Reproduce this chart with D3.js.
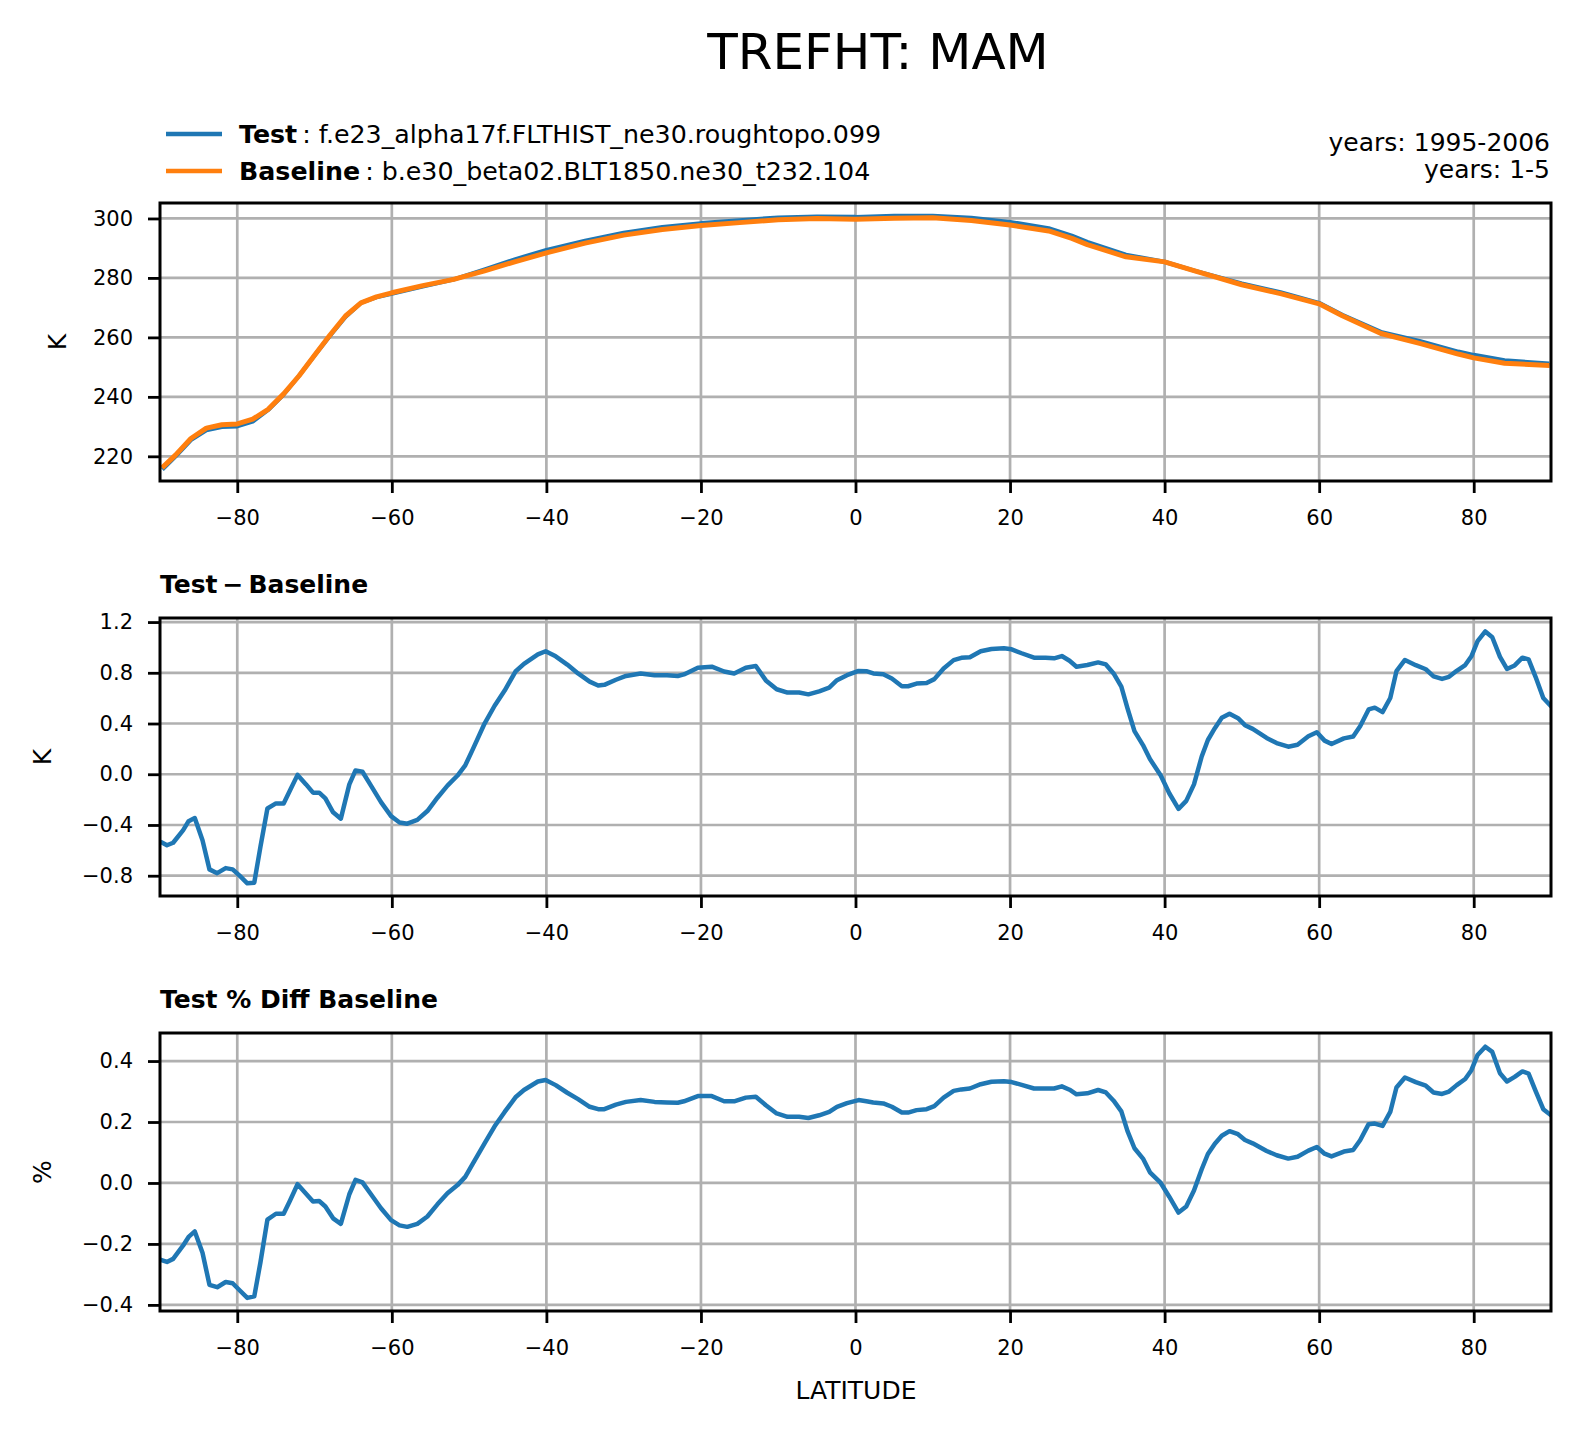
<!DOCTYPE html>
<html>
<head>
<meta charset="utf-8">
<script src="https://cdnjs.cloudflare.com/ajax/libs/d3/7.8.5/d3.min.js"></script>
<style>
  body { margin: 0; background: #fff; }
  svg text { font-family: "DejaVu Sans", sans-serif; fill: #000; }
</style>
</head>
<body>
<svg id="chart" width="1580" height="1433"></svg>
<script>
///////////////////////////////////////////////////////////////////////////////
// DATA

var titleText = 'TREFHT: MAM';
var testName = 'f.e23_alpha17f.FLTHIST_ne30.roughtopo.099';
var baseName = 'b.e30_beta02.BLT1850.ne30_t232.104';
var yearsText = ['years: 1995-2006', 'years: 1-5'];

var xTicks = [-80, -60, -40, -20, 0, 20, 40, 60, 80];

// top panel: zonal means (K)
var latMean = [-89.5, -88, -86, -84, -82, -80, -78, -76, -74, -72, -70, -68, -66, -64, -62, -60,
  -56, -52, -48, -44, -40, -35, -30, -25, -20, -15, -10, -5, 0, 5, 10, 15, 20, 25, 28, 30,
  35, 40, 44, 50, 55, 60, 63, 68, 73, 78, 80, 84, 89.5];
var testMean = [216.1, 219.9, 225.5, 228.8, 229.9, 230.1, 231.7, 235.6, 240.8, 247.1, 253.9, 260.6,
  266.9, 271.6, 273.5, 274.7, 277.1, 279.5, 282.8, 286.3, 289.4, 292.5, 295.2, 297.1, 298.4,
  299.4, 300.3, 300.6, 300.5, 300.9, 300.9, 300.2, 298.8, 296.7, 294.2, 292.1, 287.8, 285.4,
  282.3, 278.1, 275.2, 271.6, 267.6, 261.8, 258.8, 255.2, 254.1, 252.3, 251.2];
var baseMean = [216.7, 220.4, 226.0, 229.5, 230.6, 230.9, 232.5, 235.8, 241.0, 247.1, 254.0, 260.8,
  267.2, 271.6, 273.6, 275.0, 277.4, 279.5, 282.4, 285.5, 288.4, 291.7, 294.4, 296.3, 297.6,
  298.6, 299.6, 300.0, 299.7, 300.1, 300.2, 299.3, 297.8, 295.8, 293.3, 291.2, 287.1, 285.4,
  282.3, 277.7, 274.7, 271.3, 267.3, 261.3, 258.0, 254.4, 253.1, 251.3, 250.6];
var yTicksMean = [220, 240, 260, 280, 300];

// middle + bottom panels share one latitude list
var latDiff = [-89.7, -89.1, -88.3, -87.0, -86.3, -85.5, -84.5, -83.6, -82.6, -81.5, -80.6, -79.7,
  -78.7, -77.8, -77.0, -76.1, -75.0, -74.0, -73.2, -72.2, -71.1, -70.2, -69.4, -68.6, -67.6,
  -66.6, -65.5, -64.7, -63.8, -62.7, -61.4, -60.1, -59.0, -58.0, -56.7, -55.4, -54.1, -52.8,
  -51.5, -50.5, -49.5, -48.0, -46.7, -45.4, -44.0, -42.9, -41.1, -40.1, -38.8, -37.3, -35.9,
  -34.4, -33.3, -32.5, -31.0, -29.7, -27.8, -26.0, -24.4, -23.0, -22.2, -20.4, -18.6, -17.0,
  -15.7, -14.2, -12.9, -11.6, -10.2, -8.8, -7.3, -6.1, -4.7, -3.4, -2.4, -1.1, 0.4, 1.4, 2.3,
  3.6, 4.7, 6.0, 6.8, 7.9, 9.2, 10.2, 11.4, 12.7, 13.7, 14.8, 16.2, 17.6, 19.2, 20.2, 21.5,
  23.1, 24.6, 25.7, 26.7, 27.7, 28.6, 30.0, 31.4, 32.4, 33.4, 34.4, 35.2, 36.1, 37.2, 38.1,
  39.5, 40.6, 41.8, 42.8, 43.8, 44.8, 45.6, 46.5, 47.4, 48.4, 49.5, 50.4, 51.4, 53.2, 54.5,
  56.0, 57.2, 58.6, 59.7, 60.7, 61.6, 63.2, 64.4, 65.3, 66.4, 67.2, 68.2, 69.2, 70.0, 71.1,
  72.5, 73.8, 74.8, 75.9, 76.8, 77.8, 78.9, 79.7, 80.5, 81.5, 82.4, 83.4, 84.3, 85.3, 86.3,
  87.1, 88.0, 89.0, 89.9];

// Test - Baseline (K)
var diffVals = [-0.54, -0.56, -0.54, -0.44, -0.37, -0.345, -0.52, -0.75, -0.78, -0.74, -0.75, -0.80,
  -0.86, -0.855, -0.57, -0.27, -0.23, -0.23, -0.13, -0.005, -0.08, -0.145, -0.145, -0.19, -0.30,
  -0.35, -0.08, 0.03, 0.02, -0.09, -0.22, -0.33, -0.38, -0.39, -0.36, -0.29, -0.185, -0.09,
  -0.01, 0.07, 0.20, 0.40, 0.54, 0.66, 0.81, 0.87, 0.945, 0.97, 0.93, 0.865, 0.795,
  0.73, 0.70, 0.705, 0.745, 0.775, 0.795, 0.78, 0.78, 0.775, 0.787, 0.84, 0.848, 0.81,
  0.795, 0.84, 0.853, 0.74, 0.67, 0.644, 0.644, 0.63, 0.654, 0.683, 0.742, 0.781, 0.815, 0.813, 0.795,
  0.789, 0.755, 0.694, 0.694, 0.715, 0.72, 0.75, 0.834, 0.90, 0.918, 0.922, 0.97, 0.988, 0.993, 0.985, 0.954,
  0.919, 0.919, 0.914, 0.932, 0.895, 0.848, 0.861, 0.882, 0.866, 0.795, 0.69, 0.52, 0.34, 0.23, 0.12,
  -0.01, -0.15, -0.273, -0.21, -0.08, 0.14, 0.27, 0.363, 0.445, 0.477, 0.442, 0.387, 0.358, 0.286, 0.246,
  0.217, 0.232, 0.299, 0.331, 0.265, 0.238, 0.283, 0.297, 0.379, 0.511, 0.525, 0.49, 0.601, 0.813, 0.901,
  0.86, 0.828, 0.772, 0.752, 0.768, 0.816, 0.861, 0.93, 1.05, 1.126, 1.08, 0.925, 0.83, 0.858, 0.919,
  0.906, 0.768, 0.601, 0.543];
var yTicksDiff = [-0.8, -0.4, 0.0, 0.4, 0.8, 1.2];

// Test % Diff Baseline (%)
var pctVals = [-0.254, -0.259, -0.249, -0.205, -0.177, -0.159, -0.229, -0.334, -0.342, -0.325, -0.329, -0.352,
  -0.377, -0.372, -0.26, -0.12, -0.101, -0.101, -0.059, -0.004, -0.035, -0.061, -0.059, -0.077, -0.116,
  -0.134, -0.037, 0.010, 0.002, -0.037, -0.083, -0.122, -0.139, -0.144, -0.134, -0.110, -0.070, -0.034,
  -0.007, 0.02, 0.064, 0.13, 0.186, 0.233, 0.281, 0.305, 0.333, 0.338, 0.321, 0.296, 0.275,
  0.25, 0.242, 0.242, 0.257, 0.266, 0.272, 0.266, 0.264, 0.263, 0.268, 0.285, 0.285, 0.268,
  0.268, 0.28, 0.283, 0.255, 0.228, 0.217, 0.217, 0.213, 0.222, 0.233, 0.25, 0.262, 0.272, 0.268, 0.264,
  0.261, 0.250, 0.231, 0.231, 0.239, 0.242, 0.252, 0.28, 0.302, 0.307, 0.31, 0.324, 0.332, 0.334, 0.331, 0.322,
  0.31, 0.31, 0.31, 0.317, 0.306, 0.291, 0.294, 0.305, 0.297, 0.27, 0.235, 0.17, 0.114, 0.08, 0.035,
  0.0, -0.045, -0.097, -0.077, -0.025, 0.045, 0.095, 0.129, 0.155, 0.17, 0.16, 0.141, 0.13, 0.105, 0.091,
  0.08, 0.086, 0.106, 0.118, 0.096, 0.087, 0.103, 0.108, 0.14, 0.193, 0.195, 0.187, 0.233, 0.313, 0.346,
  0.331, 0.319, 0.297, 0.292, 0.300, 0.321, 0.341, 0.37, 0.42, 0.447, 0.43, 0.36, 0.333, 0.348, 0.366,
  0.359, 0.302, 0.242, 0.224];
var yTicksPct = [-0.4, -0.2, 0.0, 0.2, 0.4];

///////////////////////////////////////////////////////////////////////////////
// LAYOUT

var blue = '#1f77b4';
var orange = '#ff7f0e';
var gridColor = '#b0b0b0';
var tickFont = 21;
var labelFont = 25;

var plotLeft = 160, plotRight = 1551, panelH = 278;

var svg = d3.select('#chart');
svg.append('rect').attr('width', 1580).attr('height', 1433).attr('fill', '#fff');

var x = d3.scaleLinear().domain([-90, 90]).range([plotLeft, plotRight]);

// draws one axes box with grid, ticks and its lines
function drawPanel(opts) {
  var top = opts.top, bottom = top + panelH;
  var y = d3.scaleLinear().domain(opts.yDomain).range([bottom, top]);
  var g = svg.append('g');

  // grid
  g.selectAll('.vgrid').data(xTicks).enter().append('line')
    .attr('x1', function(d) { return x(d); }).attr('x2', function(d) { return x(d); })
    .attr('y1', top).attr('y2', bottom)
    .style('stroke', gridColor).style('stroke-width', 2.7);
  g.selectAll('.hgrid').data(opts.yTicks).enter().append('line')
    .attr('x1', plotLeft).attr('x2', plotRight)
    .attr('y1', function(d) { return y(d); }).attr('y2', function(d) { return y(d); })
    .style('stroke', gridColor).style('stroke-width', 2.7);

  // lines, clipped to the box
  var clipId = 'clip' + top;
  svg.append('clipPath').attr('id', clipId).append('rect')
    .attr('x', plotLeft).attr('y', top).attr('width', plotRight - plotLeft).attr('height', panelH);
  opts.series.forEach(function(s) {
    var line = d3.line()
      .x(function(d, i) { return x(s.lat[i]); })
      .y(function(d) { return y(d); });
    g.append('path').datum(s.values)
      .attr('clip-path', 'url(#' + clipId + ')')
      .attr('d', line)
      .style('fill', 'none')
      .style('stroke', s.color)
      .style('stroke-width', s.width)
      .style('stroke-linejoin', 'round')
      .style('stroke-linecap', 'square');
  });

  // axes
  var xAxis = d3.axisBottom(x).tickValues(xTicks).tickSize(12).tickPadding(17)
    .tickFormat(d3.format('d'));
  var yAxis = d3.axisLeft(y).tickValues(opts.yTicks).tickSize(12).tickPadding(15)
    .tickFormat(opts.yFormat);
  var gx = g.append('g').attr('transform', 'translate(0,' + bottom + ')').call(xAxis);
  var gy = g.append('g').attr('transform', 'translate(' + plotLeft + ',0)').call(yAxis);
  [gx, gy].forEach(function(a) {
    a.select('.domain').remove();
    a.selectAll('.tick line').style('stroke', '#000').style('stroke-width', 2.8);
    a.selectAll('.tick text').style('font-size', tickFont + 'px')
      .style('font-family', '"DejaVu Sans", sans-serif').attr('fill', '#000');
  });

  // box
  g.append('rect').attr('x', plotLeft).attr('y', top)
    .attr('width', plotRight - plotLeft).attr('height', panelH)
    .style('fill', 'none').style('stroke', '#000').style('stroke-width', 3);

  // y label
  g.append('text')
    .attr('transform', 'translate(' + opts.ylabelX + ',' + (top + panelH / 2) + ') rotate(-90)')
    .attr('text-anchor', 'middle')
    .style('font-size', labelFont + 'px')
    .text(opts.ylabel);

  if (opts.title) {
    g.append('text').attr('x', plotLeft).attr('y', top - 25)
      .style('font-size', labelFont + 'px').style('font-weight', 'bold')
      .text(opts.title);
  }
}

drawPanel({
  top: 203, yDomain: [211.7, 305.2], yTicks: yTicksMean, yFormat: d3.format('d'),
  ylabel: 'K', ylabelX: 66,
  series: [
    {lat: latMean, values: testMean, color: blue, width: 4.2},
    {lat: latMean, values: baseMean, color: orange, width: 5}
  ]
});

drawPanel({
  top: 618, yDomain: [-0.96, 1.232], yTicks: yTicksDiff, yFormat: d3.format('.1f'),
  ylabel: 'K', ylabelX: 51, title: 'Test\u2009\u2212\u2009Baseline',
  series: [{lat: latDiff, values: diffVals, color: blue, width: 4.5}]
});

drawPanel({
  top: 1033, yDomain: [-0.42, 0.492], yTicks: yTicksPct, yFormat: d3.format('.1f'),
  ylabel: '%', ylabelX: 51, title: 'Test % Diff Baseline',
  series: [{lat: latDiff, values: pctVals, color: blue, width: 4.5}]
});

///////////////////////////////////////////////////////////////////////////////
// TITLES, LEGEND

svg.append('text').attr('x', 878).attr('y', 69)
  .attr('text-anchor', 'middle').style('font-size', '50px').text(titleText);

var legendItems = [
  {label: 'Test', name: testName, color: blue, y: 134},
  {label: 'Baseline', name: baseName, color: orange, y: 171}
];
legendItems.forEach(function(d) {
  svg.append('line').attr('x1', 166).attr('x2', 222).attr('y1', d.y).attr('y2', d.y)
    .style('stroke', d.color).style('stroke-width', 4.5);
  var t = svg.append('text').attr('x', 239).attr('y', d.y + 9).style('font-size', '25.3px');
  t.append('tspan').style('font-weight', 'bold').text(d.label);
  t.append('tspan').text('\u2009: ' + d.name);
});

yearsText.forEach(function(s, i) {
  svg.append('text').attr('x', 1550).attr('y', 151 + i * 27)
    .attr('text-anchor', 'end').style('font-size', labelFont + 'px').text(s);
});

svg.append('text').attr('x', 856).attr('y', 1399)
  .attr('text-anchor', 'middle').style('font-size', labelFont + 'px').text('LATITUDE');
</script>
</body>
</html>
